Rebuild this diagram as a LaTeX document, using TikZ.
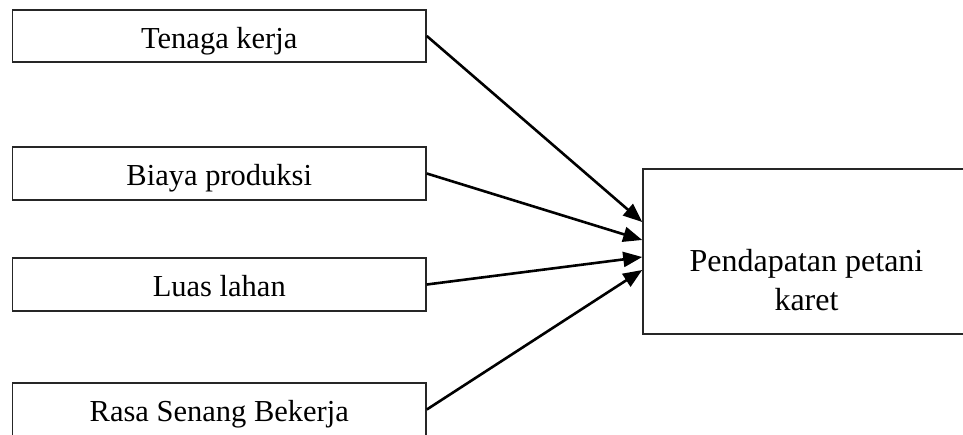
\documentclass[tikz,border=0pt]{standalone}
\usepackage{fontspec}
\setmainfont{Liberation Serif}
\usetikzlibrary{arrows.meta,calc}
\begin{document}
\begin{tikzpicture}[x=1pt,y=-1pt,
  inbox/.style={draw=black!85, line width=1.6pt, minimum width=413.5pt, minimum height=52.5pt,
    inner sep=0pt, text height=24pt, text depth=0pt, font=\fontsize{30.5}{36}\selectfont},
  outbox/.style={draw=black!85, line width=1.6pt, minimum width=327pt, minimum height=165pt, inner sep=0pt},
  outtext/.style={align=center, inner sep=0pt, font=\fontsize{32}{38.3}\selectfont},
  link/.style={line width=2.6pt, -{Triangle[length=19pt,width=15pt]}}]
\useasboundingbox (0,0) rectangle (963,434);
\node[inbox] (a) at (219.25,36) {Tenaga kerja};
\node[inbox] (b) at (219.25,173.5) {Biaya produksi};
\node[inbox] (c) at (219.25,284.5) {Luas lahan};
\node[inbox] (d) at (219.25,409.5) {Rasa Senang Bekerja};
\node[outbox] (R) at (806.5,251.5) {};
\node[outtext] (Rt) at (806.5,280) {Pendapatan petani\\karet};
\coordinate (e1) at ([yshift=29.5pt]R.west);
\coordinate (e2) at ([yshift=11.5pt]R.west);
\coordinate (e3) at ([yshift=-5.5pt]R.west);
\coordinate (e4) at ([yshift=-18.5pt]R.west);
\draw[link] (a.east) -- (e1);
\draw[link] (b.east) -- (e2);
\draw[link] (c.east) -- (e3);
\draw[link] (d.east) -- (e4);
\end{tikzpicture}
\end{document}
